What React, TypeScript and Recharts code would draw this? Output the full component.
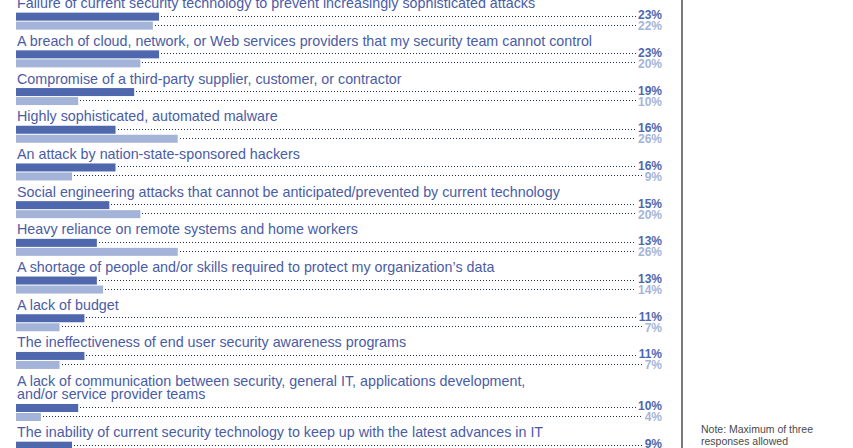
import React from 'react';
import { BarChart, Bar, XAxis, YAxis } from 'recharts';

const CATEGORIES = [
  'Failure of current security technology to prevent increasingly sophisticated attacks',
  'A breach of cloud, network, or Web services providers that my security team cannot control',
  'Compromise of a third-party supplier, customer, or contractor',
  'Highly sophisticated, automated malware',
  'An attack by nation-state-sponsored hackers',
  'Social engineering attacks that cannot be anticipated/prevented by current technology',
  'Heavy reliance on remote systems and home workers',
  'A shortage of people and/or skills required to protect my organization’s data',
  'A lack of budget',
  'The ineffectiveness of end user security awareness programs',
  'A lack of communication between security, general IT, applications development,\nand/or service provider teams',
  'The inability of current security technology to keep up with the latest advances in IT',
];

const CURRENT = [23, 23, 19, 16, 16, 15, 13, 13, 11, 11, 10, 9];
const PREVIOUS = [22, 20, 10, 26, 9, 20, 26, 14, 7, 7, 4, 6];

const DARK = '#4e67ad';
const LIGHT = '#a4b4d8';
const TEXT = '#4a5ca6';
const FONT = '"Liberation Sans", Arial, Helvetica, sans-serif';

// extra row space for each additional label line (in row units)
const LINE_STEP = 0.38;
const LABEL_RIGHT = 662;

let extra = 0;
const rows = CATEGORIES.map((name, i) => {
  extra += (name.split('\n').length - 1) * LINE_STEP;
  return { name, pos: i + extra, current: CURRENT[i], previous: PREVIOUS[i] };
});

const valueWidth = (s: string) => (s.length - 1) * 6.67 + 10.67;

function makeShape(key: 'current' | 'previous') {
  return (props: any) => {
    const { x, y, width, height, payload } = props;
    const v = payload[key];
    const label = `${v}%`;
    const cy = Math.round(y + height / 2) - 0.5;
    const dark = key === 'current';
    const lines: string[] = payload.name.split('\n');
    return (
      <g>
        <rect x={x} y={y} width={width} height={height} fill={dark ? DARK : LIGHT} />
        <line
          x1={Math.round(x + width + 2)}
          x2={LABEL_RIGHT - valueWidth(label) - 2}
          y1={cy}
          y2={cy}
          stroke="#1f2a60"
          strokeWidth={1}
          strokeDasharray="1 2"
        />
        <text
          x={LABEL_RIGHT}
          y={y + height / 2 + (dark ? 2.5 : 4.5)}
          textAnchor="end"
          fontFamily={FONT}
          fontWeight="bold"
          fontSize={12}
          fill={dark ? DARK : LIGHT}
        >
          {label}
        </text>
        {dark &&
          lines.map((ln, k) => (
            <text
              key={k}
              x={x + 1}
              y={y - 4.5 - (lines.length - 1 - k) * 13.5}
              fontFamily={FONT}
              fontSize={14.3}
              fill={TEXT}
            >
              {ln}
            </text>
          ))}
      </g>
    );
  };
}

const ROW_PX = 37.7;
const CHART_H = 500;
const DOMAIN_MIN = -21.5 / ROW_PX;
const DOMAIN_MAX = DOMAIN_MIN + CHART_H / ROW_PX;

export default function App() {
  return (
    <div style={{ position: 'absolute', left: 0, top: 0, width: 853, height: 448, overflow: 'hidden', background: '#fff' }}>
      <BarChart
        width={853}
        height={CHART_H}
        data={rows}
        layout="vertical"
        margin={{ top: 0, right: 215, left: 16, bottom: 0 }}
        barGap={1}
      >
        <XAxis type="number" domain={[0, 100]} hide />
        <YAxis
          type="number"
          dataKey="pos"
          domain={[DOMAIN_MIN, DOMAIN_MAX]}
          allowDataOverflow
          hide
        />
        <Bar dataKey="current" barSize={8} isAnimationActive={false} shape={makeShape('current')} />
        <Bar dataKey="previous" barSize={8} isAnimationActive={false} shape={makeShape('previous')} />
      </BarChart>
      <div style={{ position: 'absolute', left: 681, top: 0, width: 1.5, height: 448, background: '#7a7a7a' }} />
      <div
        style={{
          position: 'absolute',
          left: 701,
          top: 423,
          width: 140,
          fontFamily: FONT,
          fontSize: 10.5,
          lineHeight: '12px',
          color: '#4a4a4a',
        }}
      >
        Note: Maximum of three
        <br />
        responses allowed
      </div>
    </div>
  );
}
